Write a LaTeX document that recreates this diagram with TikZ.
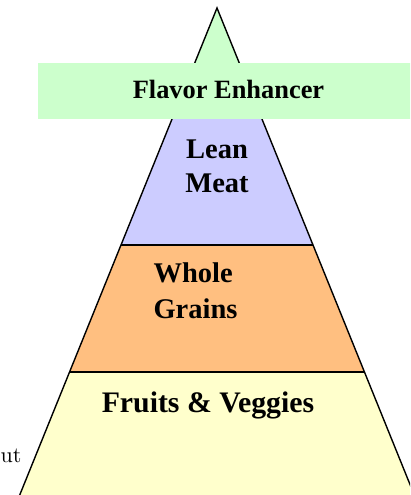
\documentclass[tikz,border=0pt]{standalone}
\usepackage{fontspec}
\setmainfont{Liberation Serif}
\newfontfamily\cutfont{lmroman10-regular.otf}
\definecolor{topgreen}{HTML}{CCFFCC}
\definecolor{meatblue}{HTML}{CCCCFF}
\definecolor{grainorange}{HTML}{FFBF80}
\definecolor{fruityellow}{HTML}{FFFFCC}
\tikzset{
  edge/.style={draw=black, line width=1.4pt, line join=miter},
  lbl/.style={inner sep=0pt, font=\bfseries\fontsize{28.5}{34}\selectfont},
  biglbl/.style={inner sep=0pt, font=\bfseries\fontsize{29.8}{34}\selectfont},
  toplbl/.style={inner sep=0pt, font=\bfseries\fontsize{26.4}{30}\selectfont},
}
\begin{document}
\begin{tikzpicture}[x=1pt, y=-1pt]
\useasboundingbox (0,0) rectangle (410,495);
\clip (0,0) rectangle (410,495);
% layers
\fill[topgreen] (217,8) -- (250.2,90) -- (183.8,90) -- cycle;
\fill[meatblue] (183.8,90) -- (250.2,90) -- (313,245) -- (121,245) -- cycle;
\fill[grainorange] (121,245) -- (313,245) -- (364.4,372) -- (69.6,372) -- cycle;
\fill[fruityellow] (69.6,372) -- (364.4,372) -- (424.4,520) -- (9.6,520) -- cycle;
% outline
\draw[edge] (9.6,520) -- (217,8) -- (424.4,520);
\draw[edge] (121,245) -- (313,245);
\draw[edge] (69.6,372) -- (364.4,372);
% flavor box
\fill[topgreen] (38,63) rectangle (412,119);
\node[toplbl, anchor=base] (flavor) at (228.5,98) {Flavor Enhancer};
\node[lbl, anchor=base] (lean) at (217,158) {Lean};
\node[lbl, anchor=base] (meat) at (217,192) {Meat};
\node[lbl, anchor=base west] (whole) at (153.3,282) {Whole};
\node[lbl, anchor=base west] (grains) at (153.3,318) {Grains};
\node[biglbl, anchor=base] (fruits) at (208,412) {Fruits \& Veggies};
\node[inner sep=0pt, anchor=base west, font=\cutfont\fontsize{22}{26}\selectfont] (cut) at (0.5,462) {ut};
\end{tikzpicture}
\end{document}
